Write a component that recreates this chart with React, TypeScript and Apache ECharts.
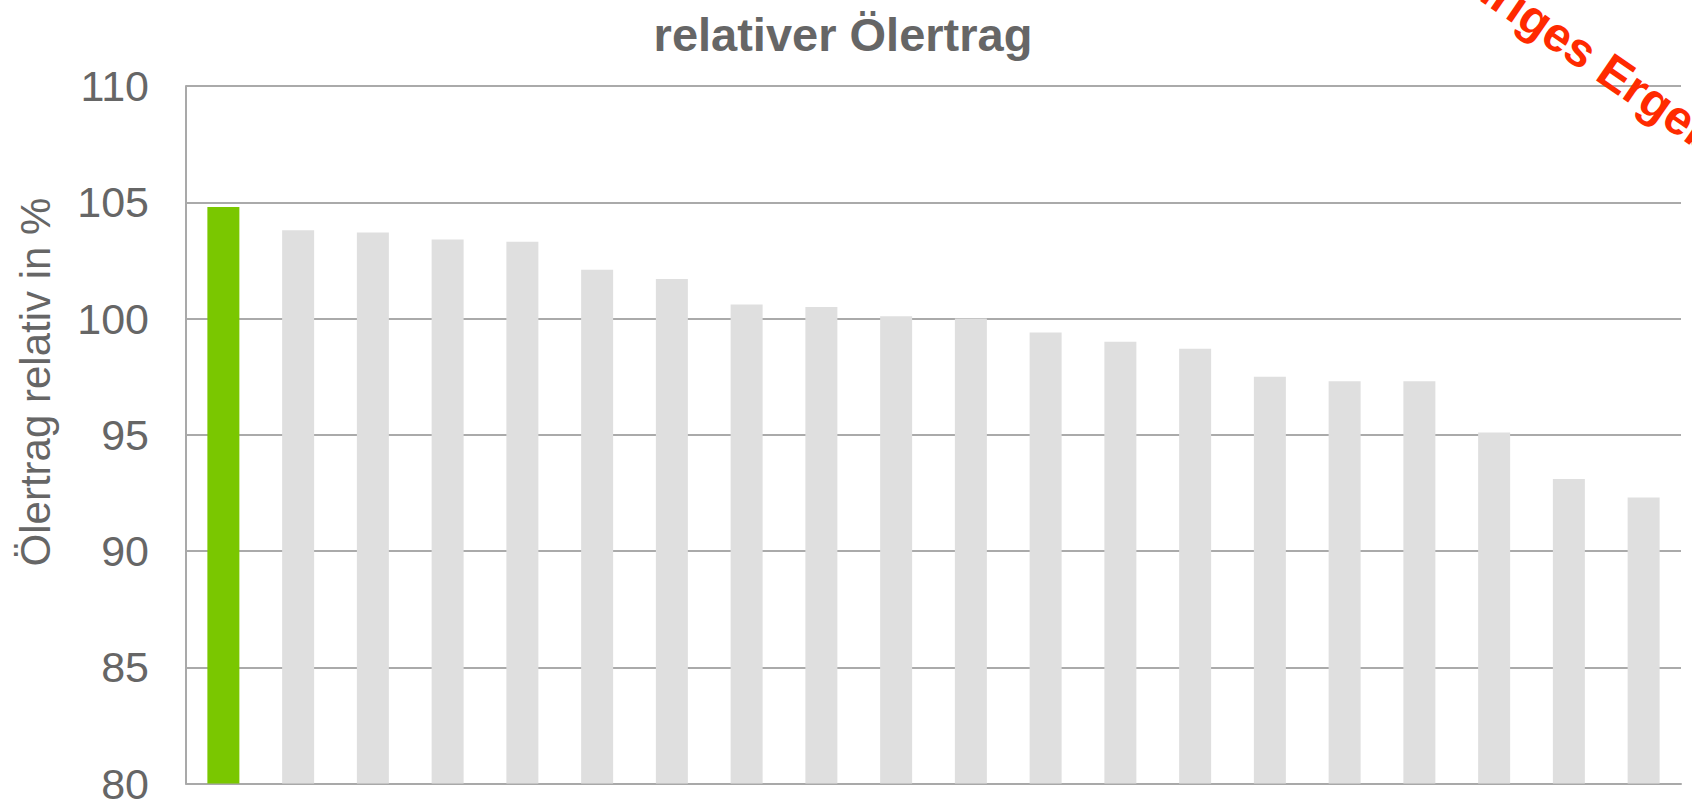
import React, { useEffect, useRef } from "react";
import * as echarts from "echarts";

const titleText = "relativer Ölertrag";
const yAxisTitle = "Ölertrag relativ in %";
const stampText = "Einjähriges Ergebnis";

const categories = [
  "Sorte 1", "Sorte 2", "Sorte 3", "Sorte 4", "Sorte 5",
  "Sorte 6", "Sorte 7", "Sorte 8", "Sorte 9", "Sorte 10",
  "Sorte 11", "Sorte 12", "Sorte 13", "Sorte 14", "Sorte 15",
  "Sorte 16", "Sorte 17", "Sorte 18", "Sorte 19", "Sorte 20",
];
const values = [
  104.8, 103.8, 103.7, 103.4, 103.3, 102.1, 101.7, 100.6, 100.5, 100.1,
  100.0, 99.4, 99.0, 98.7, 97.5, 97.3, 97.3, 95.1, 93.1, 92.3,
];
const highlightIndex = 0;
const yMin = 80;
const yMax = 110;
const yStep = 5;

export default function App() {
  const ref = useRef<HTMLDivElement>(null);

  useEffect(() => {
    if (!ref.current) return;
    const chart = echarts.init(ref.current, undefined, { renderer: "svg" });
    const angle = (34.5 * Math.PI) / 180;
    const stampFont = 48;
    // place the "g" of "...iges" near (1532, 25)
    const offsetToG = 3.9735 * stampFont;
    const upX = Math.sin(angle);
    const upY = -Math.cos(angle);
    const sx = 1532 - offsetToG * Math.cos(angle) + 7 * upX;
    const sy = 25 - offsetToG * Math.sin(angle) + 7 * upY;

    chart.setOption({
      animation: false,
      grid: { left: 186, right: 11, top: 86, bottom: 20, containLabel: false },
      xAxis: {
        type: "category",
        data: categories,
        axisLine: { show: true, lineStyle: { color: "#a9a9a9", width: 2 } },
        axisTick: { show: false },
        axisLabel: { show: false },
      },
      yAxis: {
        type: "value",
        min: yMin,
        max: yMax,
        interval: yStep,
        axisLine: { show: true, lineStyle: { color: "#a9a9a9", width: 2 } },
        axisTick: { show: false },
        axisLabel: {
          color: "#666666",
          fontSize: 43,
          fontFamily: "Liberation Sans, Arial, sans-serif",
          margin: 37,
        },
        splitLine: { show: true, lineStyle: { color: "#aaaaaa", width: 2 } },
      },
      series: [
        {
          type: "bar",
          barWidth: 32,
          data: values.map((v, i) => ({
            value: v,
            itemStyle: { color: i === highlightIndex ? "#7ac700" : "#dfdfdf" },
          })),
        },
      ],
      graphic: [
        {
          type: "text",
          x: 843,
          y: 34,
          style: {
            text: titleText,
            fill: "#666666",
            font: "bold 47px 'Liberation Sans', Arial, sans-serif",
            textAlign: "center",
            textVerticalAlign: "middle",
          },
        },
        {
          type: "text",
          x: 35,
          y: 382,
          rotation: Math.PI / 2,
          style: {
            text: yAxisTitle,
            fill: "#666666",
            font: "42px 'Liberation Sans', Arial, sans-serif",
            textAlign: "center",
            textVerticalAlign: "middle",
          },
        },
        {
          type: "text",
          x: sx,
          y: sy,
          rotation: -angle,
          z: 100,
          style: {
            text: stampText,
            fill: "#ff2a00",
            font: `bold ${stampFont}px 'Liberation Sans', Arial, sans-serif`,
            textAlign: "left",
            textVerticalAlign: "middle",
          },
        },
      ],
    });
    return () => chart.dispose();
  }, []);

  return (
    <div
      ref={ref}
      style={{ position: "absolute", left: 0, top: 0, width: 1692, height: 805, background: "#ffffff" }}
    />
  );
}
